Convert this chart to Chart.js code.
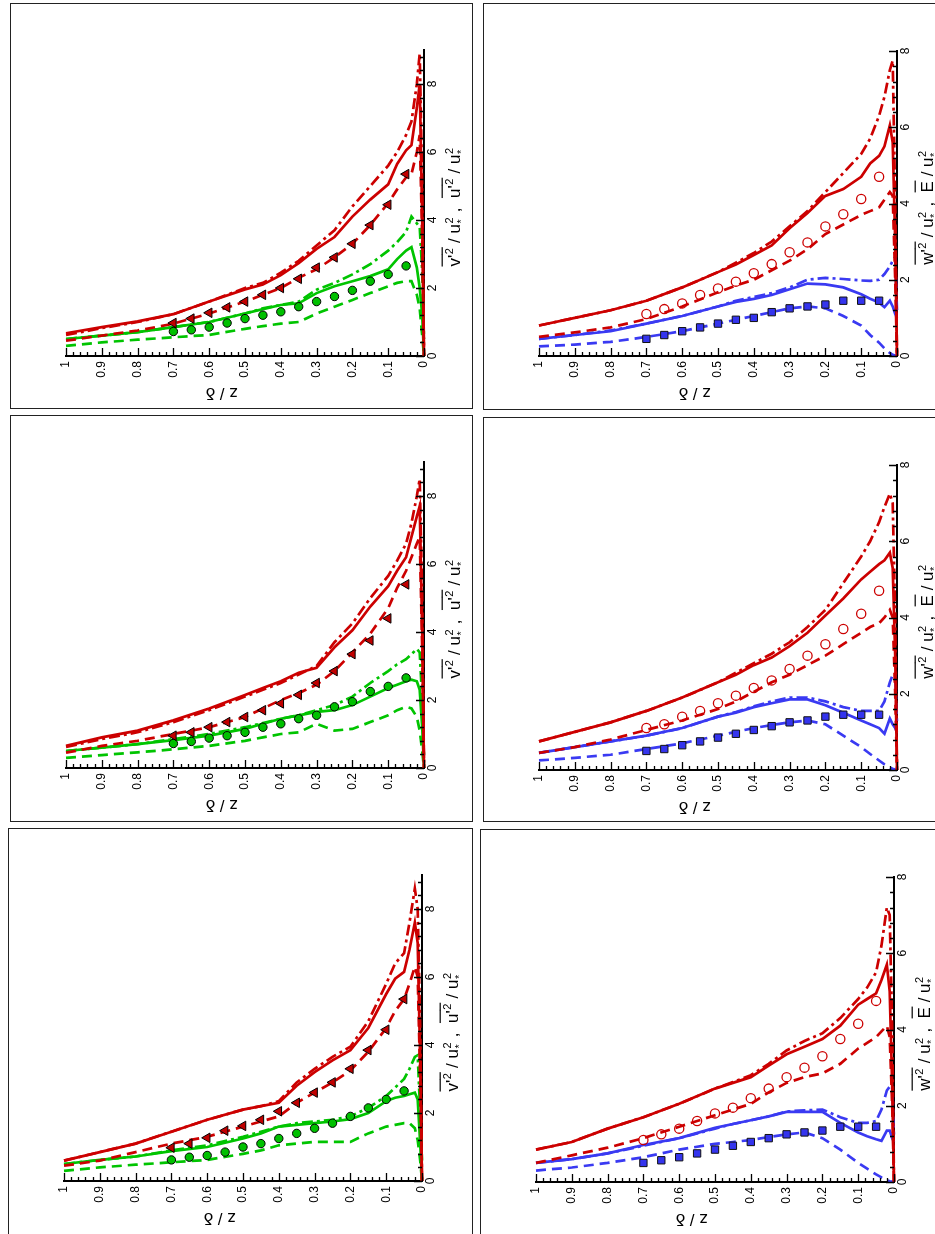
<!DOCTYPE html>
<html>
<head>
<meta charset="utf-8">
<script src="https://cdn.jsdelivr.net/npm/chart.js@4.4.1/dist/chart.umd.min.js"></script>
<style>
  body {
    margin: 0;
    width: 935px;
    height: 1234px;
    overflow: hidden;
    background: #fff;
    position: relative;
    font-family: 'Liberation Sans', Arial, sans-serif;
  }
  .frame {
    position: absolute;
    border: 1px solid #222;
    box-sizing: border-box;
  }
  canvas {
    position: absolute;
  }
</style>
</head>
<body>
<script>
  // z / delta stations of the simulated profiles and of the measurements
  const Z_SIM = [1, 0.9, 0.8, 0.7, 0.6, 0.5, 0.45, 0.4, 0.35, 0.3, 0.25, 0.2, 0.15, 0.1, 0.075, 0.05, 0.035, 0.02, 0.012, 0.005, 0];
  const Z_EXP = [0.7, 0.65, 0.6, 0.55, 0.5, 0.45, 0.4, 0.35, 0.3, 0.25, 0.2, 0.15, 0.1, 0.05];

  // panel a (top left): u'^2 (red) and v'^2 (green)
  const A_U_SOLID   = [0.67, 0.85, 1.02, 1.23, 1.6, 1.96, 2.1, 2.38, 2.73, 3.15, 3.5, 4.1, 4.6, 5.05, 5.65, 6.05, 6.2, 7.3, 8.0, 4.0, 0];
  const A_U_DASH    = [0.45, 0.6, 0.75, 0.95, 1.25, 1.6, 1.8, 2.0, 2.3, 2.55, 2.9, 3.3, 3.85, 4.5, 4.9, 5.25, 5.35, 6.0, 6.5, 3.5, 0];
  const A_U_DASHDOT = [0.62, 0.82, 1.0, 1.23, 1.6, 2.0, 2.15, 2.45, 2.8, 3.25, 3.7, 4.4, 5.0, 5.6, 6.0, 6.5, 6.9, 8.0, 8.9, 5.0, 0];
  const A_V_SOLID   = [0.5, 0.6, 0.7, 0.85, 1.0, 1.25, 1.38, 1.5, 1.55, 1.85, 2.05, 2.2, 2.35, 2.55, 2.85, 3.1, 3.2, 2.6, 2.0, 1.2, 0];
  const A_V_DASH    = [0.3, 0.4, 0.48, 0.55, 0.62, 0.8, 0.88, 0.95, 1.0, 1.25, 1.45, 1.65, 1.85, 2.05, 2.15, 2.2, 2.2, 1.8, 1.4, 0.6, 0];
  const A_V_DASHDOT = [0.5, 0.6, 0.7, 0.85, 1.0, 1.25, 1.4, 1.5, 1.6, 1.95, 2.15, 2.4, 2.7, 3.1, 3.35, 3.65, 4.1, 3.9, 3.8, 2.5, 0.5];
  const A_U_EXP     = [0.97, 1.1, 1.27, 1.43, 1.6, 1.8, 2.0, 2.27, 2.6, 2.9, 3.3, 3.85, 4.45, 5.35];
  const A_V_EXP     = [0.72, 0.77, 0.85, 0.97, 1.1, 1.2, 1.3, 1.45, 1.6, 1.75, 1.93, 2.2, 2.4, 2.65];

  // panel b (top right): E (red) and w'^2 (blue)
  const B_E_SOLID   = [0.8, 1.0, 1.2, 1.45, 1.8, 2.2, 2.4, 2.65, 2.9, 3.35, 3.75, 4.2, 4.38, 4.7, 5.05, 5.25, 5.5, 6.05, 5.6, 3.0, 0];
  const B_E_DASH    = [0.5, 0.62, 0.75, 0.97, 1.3, 1.67, 1.85, 2.0, 2.25, 2.5, 2.8, 3.2, 3.45, 3.7, 3.8, 3.9, 4.1, 4.3, 4.2, 2.0, 0];
  const B_E_DASHDOT = [0.8, 1.0, 1.2, 1.45, 1.8, 2.2, 2.45, 2.7, 3.0, 3.4, 3.8, 4.3, 4.8, 5.3, 5.7, 6.3, 6.8, 7.5, 7.75, 4.0, 0];
  const B_W_SOLID   = [0.45, 0.55, 0.65, 0.85, 1.05, 1.3, 1.42, 1.5, 1.6, 1.75, 1.9, 1.88, 1.8, 1.62, 1.5, 1.4, 1.28, 1.45, 1.3, 1.1, 1.0];
  const B_W_DASH    = [0.25, 0.3, 0.37, 0.5, 0.65, 0.85, 0.95, 1.05, 1.15, 1.25, 1.3, 1.25, 1.05, 0.8, 0.55, 0.35, 0.2, 0.08, 0.03, 0.01, 0];
  const B_W_DASHDOT = [0.45, 0.55, 0.67, 0.85, 1.05, 1.3, 1.45, 1.55, 1.65, 1.8, 2.0, 2.05, 2.02, 1.98, 1.97, 2.0, 2.15, 2.35, 2.5, 2.6, 1.2];
  const B_E_EXP     = [1.1, 1.23, 1.38, 1.6, 1.77, 1.95, 2.17, 2.41, 2.72, 2.98, 3.4, 3.72, 4.12, 4.7];
  const B_W_EXP     = [0.45, 0.55, 0.65, 0.75, 0.85, 0.95, 1.0, 1.15, 1.25, 1.3, 1.35, 1.45, 1.45, 1.45];

  // panel c (middle left)
  const C_U_SOLID   = [0.65, 0.9, 1.1, 1.4, 1.75, 2.15, 2.35, 2.55, 2.8, 2.95, 3.55, 4.05, 4.75, 5.35, 5.8, 6.2, 6.8, 7.4, 7.7, 4.0, 0];
  const C_U_DASH    = [0.45, 0.65, 0.8, 1.0, 1.2, 1.5, 1.75, 2.0, 2.2, 2.45, 2.85, 3.4, 3.95, 4.7, 5.3, 5.8, 6.2, 6.6, 6.8, 3.5, 0];
  const C_U_DASHDOT = [0.62, 0.85, 1.05, 1.35, 1.7, 2.1, 2.3, 2.5, 2.75, 3.0, 3.7, 4.25, 5.0, 5.65, 6.1, 6.6, 7.2, 8.0, 8.5, 5.0, 0];
  const C_V_SOLID   = [0.5, 0.6, 0.7, 0.82, 0.95, 1.15, 1.3, 1.45, 1.55, 1.65, 1.7, 1.85, 2.1, 2.35, 2.45, 2.55, 2.6, 2.55, 2.3, 1.2, 0];
  const C_V_DASH    = [0.3, 0.38, 0.46, 0.55, 0.65, 0.8, 0.9, 1.0, 1.05, 1.3, 1.1, 1.15, 1.35, 1.55, 1.7, 1.8, 1.75, 1.5, 1.1, 0.5, 0];
  const C_V_DASHDOT = [0.5, 0.6, 0.7, 0.85, 1.0, 1.2, 1.32, 1.45, 1.55, 1.7, 1.85, 2.1, 2.5, 2.85, 3.05, 3.2, 3.35, 3.5, 3.4, 2.0, 0.3];
  const C_U_EXP     = [0.95, 1.05, 1.2, 1.35, 1.5, 1.7, 1.9, 2.15, 2.5, 2.85, 3.35, 3.75, 4.4, 5.4];
  const C_V_EXP     = [0.72, 0.78, 0.88, 0.95, 1.05, 1.2, 1.3, 1.45, 1.55, 1.8, 1.95, 2.25, 2.4, 2.65];

  // panel d (middle right)
  const D_E_SOLID   = [0.75, 1.0, 1.25, 1.55, 1.9, 2.3, 2.5, 2.75, 2.95, 3.25, 3.6, 4.05, 4.5, 5.0, 5.2, 5.4, 5.5, 5.7, 5.3, 3.0, 0];
  const D_E_DASH    = [0.45, 0.6, 0.8, 1.05, 1.3, 1.6, 1.8, 2.05, 2.3, 2.5, 2.75, 3.0, 3.3, 3.6, 3.75, 3.85, 4.0, 4.2, 4.0, 2.0, 0];
  const D_E_DASHDOT = [0.75, 1.0, 1.25, 1.55, 1.9, 2.3, 2.55, 2.8, 3.05, 3.35, 3.75, 4.2, 4.9, 5.6, 6.0, 6.5, 6.9, 7.25, 7.0, 4.0, 0];
  const D_W_SOLID   = [0.45, 0.6, 0.75, 0.9, 1.1, 1.4, 1.5, 1.65, 1.75, 1.85, 1.85, 1.7, 1.5, 1.3, 1.2, 1.1, 0.95, 1.35, 1.2, 1.1, 1.0];
  const D_W_DASH    = [0.25, 0.32, 0.4, 0.55, 0.7, 0.9, 1.0, 1.1, 1.18, 1.25, 1.3, 1.2, 0.9, 0.6, 0.42, 0.25, 0.15, 0.06, 0.03, 0.01, 0];
  const D_W_DASHDOT = [0.45, 0.6, 0.75, 0.9, 1.1, 1.4, 1.52, 1.67, 1.8, 1.9, 1.9, 1.8, 1.65, 1.55, 1.55, 1.55, 1.8, 2.3, 2.5, 2.5, 1.2];
  const D_E_EXP     = [1.1, 1.2, 1.4, 1.55, 1.75, 1.95, 2.15, 2.35, 2.65, 3.0, 3.3, 3.7, 4.1, 4.7];
  const D_W_EXP     = [0.5, 0.55, 0.65, 0.75, 0.85, 0.95, 1.05, 1.15, 1.25, 1.3, 1.4, 1.45, 1.45, 1.45];

  // panel e (bottom left)
  const E_U_SOLID   = [0.6, 0.85, 1.1, 1.45, 1.8, 2.1, 2.2, 2.3, 2.8, 3.2, 3.55, 3.85, 4.5, 5.5, 5.95, 6.15, 6.8, 7.6, 7.0, 3.5, 0];
  const E_U_DASH    = [0.45, 0.6, 0.85, 1.1, 1.3, 1.6, 1.75, 1.9, 2.3, 2.6, 2.9, 3.25, 3.8, 4.5, 5.0, 5.35, 5.8, 6.3, 6.0, 3.0, 0];
  const E_U_DASHDOT = [0.6, 0.85, 1.1, 1.45, 1.8, 2.1, 2.2, 2.35, 2.9, 3.3, 3.65, 3.95, 4.7, 5.8, 6.4, 6.7, 7.6, 8.6, 8.0, 4.5, 0];
  const E_V_SOLID   = [0.5, 0.62, 0.72, 0.88, 1.0, 1.25, 1.4, 1.6, 1.65, 1.7, 1.75, 1.82, 2.0, 2.35, 2.45, 2.5, 2.55, 2.6, 2.4, 1.1, 0];
  const E_V_DASH    = [0.3, 0.4, 0.48, 0.55, 0.62, 0.8, 0.9, 1.05, 1.1, 1.15, 1.15, 1.15, 1.4, 1.6, 1.65, 1.7, 1.7, 1.55, 1.2, 0.6, 0];
  const E_V_DASHDOT = [0.5, 0.62, 0.72, 0.9, 1.05, 1.3, 1.45, 1.6, 1.7, 1.75, 1.8, 1.9, 2.15, 2.5, 2.75, 3.0, 3.3, 3.65, 3.7, 2.0, 0.6];
  const E_U_EXP     = [0.98, 1.1, 1.27, 1.48, 1.62, 1.8, 2.05, 2.3, 2.6, 2.9, 3.3, 3.85, 4.45, 5.35];
  const E_V_EXP     = [0.62, 0.7, 0.75, 0.85, 1.0, 1.1, 1.25, 1.4, 1.55, 1.7, 1.9, 2.15, 2.4, 2.65];

  // panel f (bottom right)
  const F_E_SOLID   = [0.85, 1.05, 1.4, 1.7, 2.05, 2.45, 2.6, 2.75, 3.05, 3.35, 3.55, 3.75, 4.1, 4.65, 4.8, 4.95, 5.3, 5.7, 5.0, 2.5, 0];
  const F_E_DASH    = [0.5, 0.7, 0.9, 1.15, 1.45, 1.75, 1.9, 2.05, 2.35, 2.6, 2.75, 2.85, 3.1, 3.5, 3.65, 3.8, 3.95, 4.1, 3.8, 2.0, 0];
  const F_E_DASHDOT = [0.85, 1.05, 1.4, 1.7, 2.05, 2.45, 2.62, 2.8, 3.1, 3.45, 3.7, 3.9, 4.3, 4.8, 5.1, 5.5, 6.2, 7.2, 7.0, 4.0, 0];
  const F_W_SOLID   = [0.5, 0.6, 0.75, 0.97, 1.15, 1.42, 1.52, 1.62, 1.72, 1.84, 1.84, 1.84, 1.55, 1.3, 1.2, 1.12, 1.08, 1.35, 1.35, 1.15, 1.05];
  const F_W_DASH    = [0.3, 0.38, 0.5, 0.65, 0.85, 1.0, 1.05, 1.1, 1.18, 1.25, 1.3, 1.15, 0.85, 0.5, 0.35, 0.2, 0.12, 0.05, 0.02, 0.01, 0];
  const F_W_DASHDOT = [0.5, 0.6, 0.75, 0.95, 1.15, 1.4, 1.52, 1.62, 1.72, 1.85, 1.88, 1.9, 1.7, 1.55, 1.55, 1.6, 1.9, 2.4, 2.5, 2.5, 1.2];
  const F_E_EXP     = [1.1, 1.25, 1.4, 1.6, 1.8, 1.95, 2.2, 2.45, 2.75, 3.0, 3.3, 3.75, 4.15, 4.75];
  const F_W_EXP     = [0.5, 0.57, 0.65, 0.75, 0.85, 0.95, 1.05, 1.15, 1.25, 1.3, 1.35, 1.45, 1.45, 1.45];

  const RED = '#cc0000';
  const GREEN = '#00c400';
  const BLUE = '#3a3af2';
  const DASH = [10, 6];
  const DASHDOT = [11, 4, 3, 4];

  // axis titles, drawn by hand (overbars, super/subscripts, odd rotations)
  const TITLE_UV = [
    { t: "v'", over: true }, { sup: '2', over: true },
    { t: ' / u' }, { sup: '2', sub: '*' },
    { t: ' ,  ' },
    { t: "u'", over: true }, { sup: '2', over: true },
    { t: ' / u' }, { sup: '2', sub: '*' }
  ];
  const TITLE_WE = [
    { t: "w'", over: true }, { sup: '2', over: true },
    { t: ' / u' }, { sup: '2', sub: '*' },
    { t: ' ,  ' },
    { t: 'E', over: true },
    { t: ' / u' }, { sup: '2', sub: '*' }
  ];

  // frame boxes in page pixels: left, top, width, height
  const PANELS = [
    { box: [10, 3, 463, 406], ymax: 9, kind: 'uv', s: [A_U_SOLID, A_U_DASH, A_U_DASHDOT, A_U_EXP, A_V_SOLID, A_V_DASH, A_V_DASHDOT, A_V_EXP] },
    { box: [483, 3, 470, 407], ymax: 8, kind: 'we', s: [B_E_SOLID, B_E_DASH, B_E_DASHDOT, B_E_EXP, B_W_SOLID, B_W_DASH, B_W_DASHDOT, B_W_EXP] },
    { box: [10, 415, 463, 407], ymax: 9, kind: 'uv', s: [C_U_SOLID, C_U_DASH, C_U_DASHDOT, C_U_EXP, C_V_SOLID, C_V_DASH, C_V_DASHDOT, C_V_EXP] },
    { box: [483, 417, 470, 405], ymax: 8, kind: 'we', s: [D_E_SOLID, D_E_DASH, D_E_DASHDOT, D_E_EXP, D_W_SOLID, D_W_DASH, D_W_DASHDOT, D_W_EXP] },
    { box: [8, 828, 465, 412], ymax: 9, kind: 'uv', s: [E_U_SOLID, E_U_DASH, E_U_DASHDOT, E_U_EXP, E_V_SOLID, E_V_DASH, E_V_DASHDOT, E_V_EXP] },
    { box: [480, 829, 470, 411], ymax: 8, kind: 'we', s: [F_E_SOLID, F_E_DASH, F_E_DASHDOT, F_E_EXP, F_W_SOLID, F_W_DASH, F_W_DASHDOT, F_W_EXP] }
  ];

  const AREA_LEFT = 56;
  const AREA_WIDTH = 358;
  const AREA_BOTTOM = 353;

  function drawRich(ctx, segs, cx, cy, angle, size) {
    const base = size + "px 'Liberation Sans', Arial, sans-serif";
    const small = Math.round(size * 0.62) + "px 'Liberation Sans', Arial, sans-serif";
    ctx.save();
    ctx.translate(cx, cy);
    ctx.rotate(angle);
    ctx.fillStyle = '#000';
    ctx.textAlign = 'left';
    ctx.textBaseline = 'alphabetic';
    const widths = segs.map(s => {
      if (s.t !== undefined) {
        ctx.font = base;
        return ctx.measureText(s.t).width;
      }
      ctx.font = small;
      return Math.max(ctx.measureText(s.sup || '').width, ctx.measureText(s.sub || '').width) + 1;
    });
    const total = widths.reduce((p, w) => p + w, 0);
    const yb = size * 0.35;
    let x = -total / 2;
    segs.forEach((s, i) => {
      if (s.t !== undefined) {
        ctx.font = base;
        ctx.fillText(s.t, x, yb);
      } else {
        ctx.font = small;
        if (s.sup) ctx.fillText(s.sup, x + 0.5, yb - size * 0.42);
        if (s.sub) ctx.fillText(s.sub, x + 0.5, yb + size * 0.32);
      }
      if (s.over) ctx.fillRect(x, yb - size * 1.08, widths[i] + 0.5, 1.2);
      x += widths[i];
    });
    ctx.restore();
  }

  const panelDecor = {
    id: 'panelDecor',
    afterDraw(chart, args, opts) {
      const ctx = chart.ctx;
      const xs = chart.scales.x;
      const ys = chart.scales.y;
      const a = chart.chartArea;
      ctx.save();
      ctx.strokeStyle = '#000';
      ctx.lineWidth = 1.3;
      ctx.beginPath();
      // inward ticks: x every 0.02, y every 0.4
      for (let i = 0; i <= 50; i++) {
        const px = Math.round(xs.getPixelForValue(i / 50)) + 0.5;
        const len = i % 5 === 0 ? 8 : 4;
        ctx.moveTo(px, a.bottom);
        ctx.lineTo(px, a.bottom - len);
      }
      for (let i = 0; i * 0.4 <= ys.max + 1e-6; i++) {
        const py = Math.round(ys.getPixelForValue(i * 0.4)) + 0.5;
        const len = i % 5 === 0 ? 8 : 4;
        ctx.moveTo(a.right, py);
        ctx.lineTo(a.right - len, py);
      }
      ctx.stroke();
      ctx.restore();

      drawRich(ctx, [{ t: 'z / \u03b4' }], a.left + 0.435 * (a.right - a.left), a.bottom + 38, Math.PI, 17);
      drawRich(ctx, opts.title, a.right + 30, (a.top + a.bottom) / 2 + 4, -Math.PI / 2, 17);
    }
  };

  function simLine(arr, color, dash) {
    return {
      data: Z_SIM.map((z, i) => ({ x: z, y: arr[i] })),
      showLine: true,
      borderColor: color,
      backgroundColor: color,
      borderWidth: 2.7,
      borderDash: dash,
      pointRadius: 0,
      tension: 0,
      clip: false,
      order: 2
    };
  }

  function expPoints(arr, style, fill, edge, radius, rotation, width) {
    return {
      data: Z_EXP.map((z, i) => ({ x: z, y: arr[i] })),
      showLine: false,
      pointStyle: style,
      pointRadius: radius,
      pointRotation: rotation,
      pointBackgroundColor: fill,
      pointBorderColor: edge,
      pointBorderWidth: width,
      clip: false,
      order: 1
    };
  }

  PANELS.forEach(p => {
    const [left, top, w, h] = p.box;
    const frame = document.createElement('div');
    frame.className = 'frame';
    frame.style.left = left + 'px';
    frame.style.top = top + 'px';
    frame.style.width = w + 'px';
    frame.style.height = h + 'px';
    document.body.appendChild(frame);

    const canvas = document.createElement('canvas');
    canvas.width = w;
    canvas.height = h;
    canvas.style.left = left + 'px';
    canvas.style.top = top + 'px';
    canvas.style.width = w + 'px';
    canvas.style.height = h + 'px';
    document.body.appendChild(canvas);

    const areaTop = p.ymax === 9 ? 47 : 48;
    const red = RED;
    const other = p.kind === 'uv' ? GREEN : BLUE;
    const s = p.s;
    let datasets;
    if (p.kind === 'uv') {
      datasets = [
        expPoints(s[3], 'triangle', '#c00000', '#000', 5.5, -90, 1),
        expPoints(s[7], 'circle', '#00c000', '#000', 4.2, 0, 1),
        simLine(s[2], red, DASHDOT), simLine(s[0], red, []), simLine(s[1], red, DASH),
        simLine(s[6], other, DASHDOT), simLine(s[4], other, []), simLine(s[5], other, DASH)
      ];
    } else {
      datasets = [
        expPoints(s[3], 'circle', 'rgba(0,0,0,0)', RED, 4.6, 0, 1.3),
        expPoints(s[7], 'rect', '#3434ee', '#111', 5.2, 0, 1),
        simLine(s[2], red, DASHDOT), simLine(s[0], red, []), simLine(s[1], red, DASH),
        simLine(s[6], other, DASHDOT), simLine(s[4], other, []), simLine(s[5], other, DASH)
      ];
    }

    new Chart(canvas.getContext('2d'), {
      type: 'scatter',
      data: { datasets: datasets },
      options: {
        responsive: false,
        animation: false,
        devicePixelRatio: 1,
        layout: { padding: { left: AREA_LEFT, top: areaTop, right: 0, bottom: 0 } },
        plugins: {
          legend: { display: false },
          tooltip: { enabled: false },
          panelDecor: { title: p.kind === 'uv' ? TITLE_UV : TITLE_WE }
        },
        scales: {
          x: {
            type: 'linear',
            position: 'bottom',
            reverse: true,
            min: 0,
            max: 1,
            afterFit: function(scale) { scale.height = h - AREA_BOTTOM; },
            grid: { display: false, drawTicks: false },
            border: { display: true, color: '#000', width: 2 },
            ticks: {
              stepSize: 0.1,
              autoSkip: false,
              minRotation: 90,
              maxRotation: 90,
              padding: 5,
              color: '#000',
              font: { family: "'Liberation Sans', Arial, sans-serif", size: 12 },
              callback: v => String(+Number(v).toFixed(2))
            }
          },
          y: {
            type: 'linear',
            position: 'right',
            min: 0,
            max: p.ymax,
            afterFit: function(scale) { scale.width = w - AREA_LEFT - AREA_WIDTH; },
            afterBuildTicks: function(scale) {
              scale.ticks = scale.ticks.filter(t => t.value % 2 === 0);
            },
            grid: { display: false, drawTicks: false },
            border: { display: true, color: '#000', width: 2 },
            ticks: {
              stepSize: 2,
              includeBounds: false,
              minRotation: 90,
              maxRotation: 90,
              crossAlign: 'center',
              padding: 5,
              color: '#000',
              font: { family: "'Liberation Sans', Arial, sans-serif", size: 12 },
              callback: v => String(v)
            }
          }
        }
      },
      plugins: [panelDecor]
    });
  });
</script>
</body>
</html>
